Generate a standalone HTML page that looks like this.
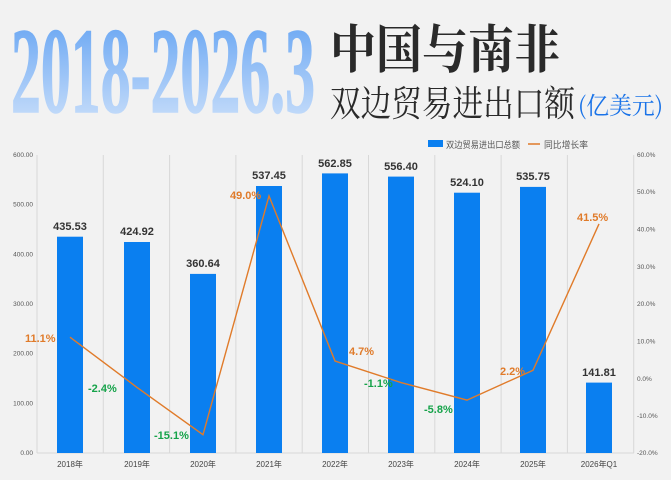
<!DOCTYPE html>
<html><head><meta charset="utf-8"><style>
body{margin:0;background:#f3f3f3;}
svg{display:block;font-family:"Liberation Sans","Noto Sans CJK SC",sans-serif;}
</style></head><body>
<svg width="671" height="480" viewBox="0 0 671 480" xmlns="http://www.w3.org/2000/svg">
<defs>
<linearGradient id="g" x1="0" y1="0" x2="0" y2="1">
<stop offset="0" stop-color="#5b9ef2"/><stop offset="1" stop-color="#d6e6fb"/>
</linearGradient>
</defs>
<rect width="671" height="480" fill="#f2f2f2"/>
<text x="11" y="112" font-family="Liberation Serif,serif" font-size="122" font-weight="bold" fill="url(#g)" stroke="url(#g)" stroke-width="1.5" textLength="304" lengthAdjust="spacingAndGlyphs">2018-2026.3</text>
<text x="330" y="68" font-family="'Noto Serif CJK SC',serif" font-size="52" font-weight="bold" fill="#2a2a2a" textLength="230" lengthAdjust="spacingAndGlyphs">中国与南非</text>
<text x="330" y="116" font-family="'Noto Serif CJK SC',serif" font-size="36" fill="#2a2a2a" textLength="245" lengthAdjust="spacingAndGlyphs">双边贸易进出口额</text>
<text x="578" y="114" font-family="'Noto Serif CJK SC',serif" font-size="24" fill="#1a73e8" textLength="85" lengthAdjust="spacingAndGlyphs">(亿美元)</text>
<!-- legend -->
<rect x="428" y="140" width="15" height="7" fill="#0a7ff0"/>
<text x="446" y="148" font-size="9" fill="#555" textLength="74" lengthAdjust="spacingAndGlyphs">双边贸易进出口总额</text>
<line x1="528" y1="144" x2="540" y2="144" stroke="#e07b2a" stroke-width="1.5"/>
<text x="544" y="148" font-size="9" fill="#555" textLength="44" lengthAdjust="spacingAndGlyphs">同比增长率</text>
<!-- grid -->
<g stroke="#d8d8d8" stroke-width="1">
<line x1="37" y1="155" x2="37" y2="453"/><line x1="103.3" y1="155" x2="103.3" y2="453"/><line x1="169.6" y1="155" x2="169.6" y2="453"/><line x1="235.9" y1="155" x2="235.9" y2="453"/><line x1="302.2" y1="155" x2="302.2" y2="453"/><line x1="368.5" y1="155" x2="368.5" y2="453"/><line x1="434.8" y1="155" x2="434.8" y2="453"/><line x1="501.1" y1="155" x2="501.1" y2="453"/><line x1="567.4" y1="155" x2="567.4" y2="453"/><line x1="633.7" y1="155" x2="633.7" y2="453"/>
<line x1="37" y1="453" x2="634" y2="453"/>
</g>
<g font-size="6.5" fill="#555" text-anchor="end">
<text x="33" y="157">600.00</text><text x="33" y="206.7">500.00</text><text x="33" y="256.3">400.00</text><text x="33" y="306">300.00</text><text x="33" y="355.7">200.00</text><text x="33" y="405.3">100.00</text><text x="33" y="455">0.00</text>
</g>
<g font-size="6.5" fill="#555">
<text x="637" y="157">60.0%</text><text x="637" y="194">50.0%</text><text x="637" y="231.5">40.0%</text><text x="637" y="269">30.0%</text><text x="637" y="306">20.0%</text><text x="637" y="343.5">10.0%</text><text x="637" y="381">0.0%</text><text x="637" y="418">-10.0%</text><text x="637" y="455">-20.0%</text>
</g>
<!-- bars -->
<g fill="#0a7ff0">
<rect x="57" y="236.7" width="26" height="216.3"/>
<rect x="124" y="242" width="26" height="211"/>
<rect x="190" y="273.9" width="26" height="179.1"/>
<rect x="256" y="186" width="26" height="267"/>
<rect x="322" y="173.4" width="26" height="279.6"/>
<rect x="388" y="176.6" width="26" height="276.4"/>
<rect x="454" y="192.7" width="26" height="260.3"/>
<rect x="520" y="186.9" width="26" height="266.1"/>
<rect x="586" y="382.6" width="26" height="70.4"/>
</g>
<g font-size="11" font-weight="bold" fill="#333" text-anchor="middle">
<text x="70" y="230">435.53</text><text x="137" y="235">424.92</text><text x="203" y="267">360.64</text><text x="269" y="179">537.45</text><text x="335" y="167">562.85</text><text x="401" y="170">556.40</text><text x="467" y="186">524.10</text><text x="533" y="180">535.75</text><text x="599" y="376">141.81</text>
</g>
<polyline fill="none" stroke="#e07b2a" stroke-width="1.4" points="70,337.2 137,387.4 203,434.7 269,196 335,361 401,382.6 467,400.1 533,370.3 599,223.9"/>
<g font-size="11" font-weight="bold">
<text x="25" y="342" fill="#e07b2a">11.1%</text>
<text x="88" y="392" fill="#16a34a">-2.4%</text>
<text x="154" y="439" fill="#16a34a">-15.1%</text>
<text x="230" y="199" fill="#e07b2a">49.0%</text>
<text x="349" y="355" fill="#e07b2a">4.7%</text>
<text x="364" y="387" fill="#16a34a">-1.1%</text>
<text x="424" y="413" fill="#16a34a">-5.8%</text>
<text x="500" y="375" fill="#e07b2a">2.2%</text>
<text x="577" y="221" fill="#e07b2a">41.5%</text>
</g>
<g font-size="8" fill="#444" text-anchor="middle">
<text x="70" y="467">2018年</text><text x="137" y="467">2019年</text><text x="203" y="467">2020年</text><text x="269" y="467">2021年</text><text x="335" y="467">2022年</text><text x="401" y="467">2023年</text><text x="467" y="467">2024年</text><text x="533" y="467">2025年</text><text x="599" y="467">2026年Q1</text>
</g>
</svg>
</body></html>
